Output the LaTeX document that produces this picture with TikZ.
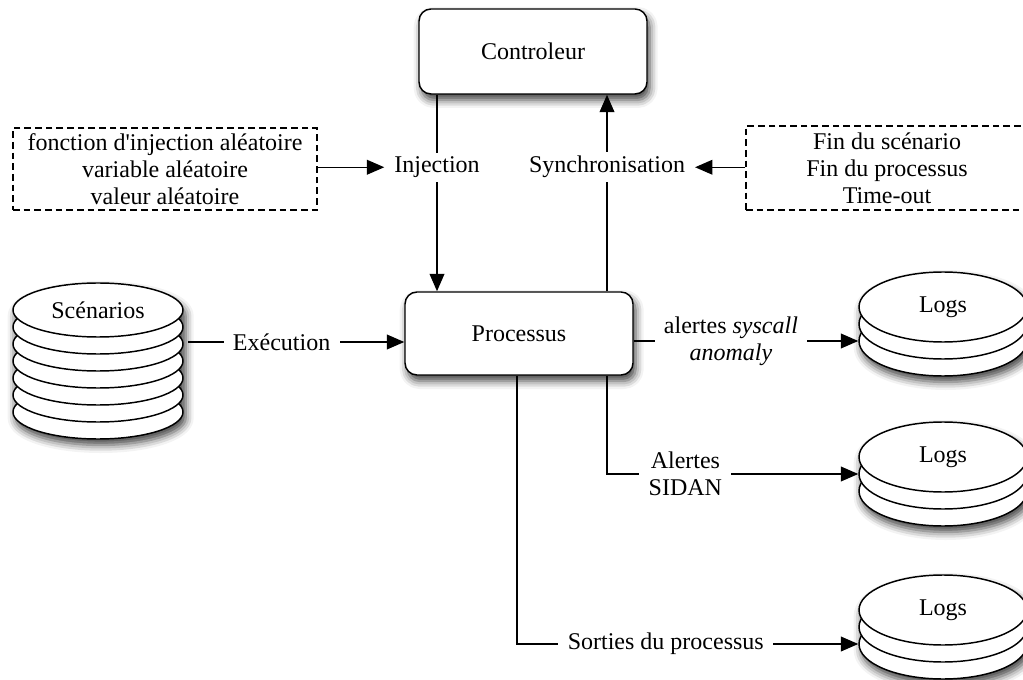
\documentclass[tikz,border=0pt]{standalone}
\usepackage{fontspec}
\setmainfont{Liberation Serif}[Ligatures=TeXOff]
\usetikzlibrary{arrows.meta,shapes.geometric,shadows.blur}
\begin{document}
\begin{tikzpicture}[x=0.75pt,y=-0.75pt,
  font=\fontsize{18}{20.25}\selectfont,
  line width=1.1pt,
  arr/.style={-{Triangle[length=13pt,width=11pt,fill=black]}},
  shd/.style={blur shadow={shadow xshift=2pt,shadow yshift=-4.5pt,shadow blur radius=6pt,shadow opacity=75}},
  rbox/.style={draw, rounded corners=9pt, fill=white, minimum width=171pt, inner sep=0pt, shd},
  dbox/.style={draw, dash pattern=on 5pt off 3pt, line width=1pt, align=center, inner sep=0pt},
  scdisk/.style={draw, fill=white, ellipse, inner sep=0pt, minimum width=127.5pt, minimum height=40.5pt},
  lgdisk/.style={draw, fill=white, ellipse, inner sep=0pt, minimum width=126pt, minimum height=52.5pt},
  lbl/.style={fill=white, inner xsep=7pt, inner ysep=3pt, align=center},
]
\useasboundingbox (0,0) rectangle (1023,680);

% boxes
\node[rbox, minimum height=63.75pt] (ctrl) at (533,51.5) {Controleur};
\node[rbox, minimum height=62.25pt] (proc) at (519,333.5) {Processus};
\node[dbox, minimum width=228pt, minimum height=61.5pt] (inp) at (165,169)
  {fonction d'injection aléatoire\\variable aléatoire\\valeur aléatoire};
\node[dbox, minimum width=211.5pt, minimum height=63pt] (outp) at (887,168)
  {Fin du scénario\\Fin du processus\\Time-out};

% Scenarios stack
\path[shd] (183,310) arc[start angle=0,end angle=180,x radius=63.75pt,y radius=20.25pt]
  -- (13,412) arc[start angle=180,end angle=360,x radius=63.75pt,y radius=20.25pt] -- cycle;
\foreach \k in {6,5,4,3,2,1}{
  \node[scdisk] (sc\k) at (98,{310+17*\k}) {};
}
\node[scdisk] (scen) at (98,310) {Scénarios};

% Logs stacks
\foreach \n/\cy in {1/307,2/457,3/610}{
  \path[shd] (1027,\cy) arc[start angle=0,end angle=180,x radius=63pt,y radius=26.25pt]
    -- (859,{\cy+34}) arc[start angle=180,end angle=360,x radius=63pt,y radius=26.25pt] -- cycle;
  \node[lgdisk] (lg\n b) at (943,{\cy+34}) {};
  \node[lgdisk] (lg\n a) at (943,{\cy+17}) {};
  \node[lgdisk] (lg\n) at (943,\cy) {Logs};
}

% helper coordinates
\coordinate (xinj) at (437,0);
\coordinate (xsync) at (607,0);
\coordinate (xsor) at (517,0);
\coordinate (ysys) at (0,341);
\coordinate (exS) at (188,342);

% connectors
\draw[arr] (ctrl.south -| xinj) -- node[lbl,pos=0.369] (injl) {Injection} (proc.north -| xinj);
\draw[arr] (proc.north -| xsync) -- node[lbl,pos=0.631] (syncl) {Synchronisation} (ctrl.south -| xsync);
\draw[arr] (inp.east |- injl) -- (injl.west);
\draw[arr] (outp.west |- syncl) -- (syncl.east);
\draw[arr] (exS) -- node[lbl,pos=0.433] (exel) {Exécution} (proc.west |- exS);
\draw[arr] (proc.east |- ysys) -- node[lbl,pos=0.433] (sysl) {alertes \textit{syscall}\\\textit{anomaly}} (lg1b.west);
\draw[arr] (proc.south -| xsync) |- node[lbl,pos=0.656] (sidl) {Alertes\\SIDAN} (lg2a.west);
\draw[arr] (proc.south -| xsor) |- node[lbl,pos=0.718] (sorl) {Sorties du processus} (lg3b.west);
\end{tikzpicture}
\end{document}
